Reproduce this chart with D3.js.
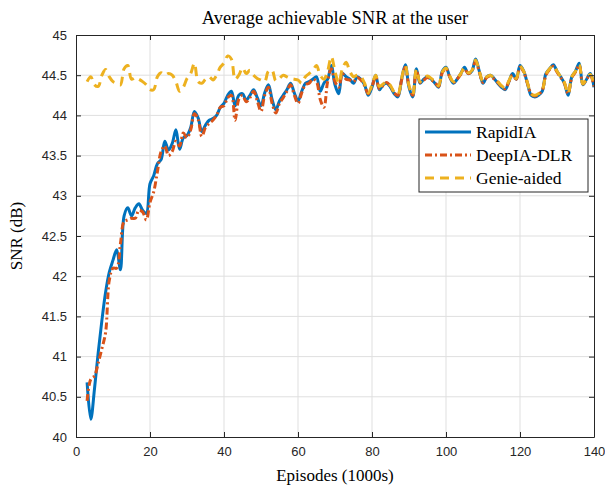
<!DOCTYPE html>
<html>
<head>
<meta charset="utf-8">
<script src="https://cdnjs.cloudflare.com/ajax/libs/d3/7.8.5/d3.min.js"></script>
<style>
  body { margin: 0; background: #fff; }
  .tick text { font-family: "Liberation Sans", Arial, sans-serif; font-size: 13px; fill: #262626; }
  .serif { font-family: "Liberation Serif", "DejaVu Serif", serif; fill: #000; }
</style>
</head>
<body>
<div id="chart"></div>
<script>
// episodes, in 1000s
var episodes = d3.range(3, 141);

var rapidIA = [
  40.68, 40.22, 40.60, 41.05, 41.45, 41.80, 42.05, 42.20, 42.33, 42.08,
  42.75, 42.85, 42.75, 42.85, 42.90, 42.82, 42.78, 43.15, 43.25, 43.40,
  43.45, 43.68, 43.57, 43.65, 43.82, 43.58, 43.72, 43.75, 43.85, 44.05,
  43.97, 43.80, 43.88, 43.94, 43.96, 44.00, 44.10, 44.15, 44.25, 44.30,
  44.12, 44.25, 44.27, 44.19, 44.25, 44.32, 44.22, 44.12, 44.28, 44.38,
  44.20, 44.07, 44.18, 44.25, 44.32, 44.40, 44.28, 44.18, 44.30, 44.40,
  44.42, 44.45, 44.48, 44.30, 44.40, 44.45, 44.62, 44.38, 44.27, 44.52,
  44.48, 44.45, 44.40, 44.48, 44.45, 44.38, 44.25, 44.35, 44.50, 44.32,
  44.38, 44.40, 44.35, 44.27, 44.23, 44.45, 44.63, 44.35, 44.23, 44.58,
  44.40, 44.45, 44.48, 44.45, 44.40, 44.35, 44.55, 44.60, 44.48, 44.40,
  44.45, 44.52, 44.60, 44.52, 44.55, 44.70, 44.55, 44.40, 44.48, 44.50,
  44.46, 44.40, 44.35, 44.32, 44.42, 44.52, 44.45, 44.62, 44.55, 44.40,
  44.25, 44.23, 44.25, 44.30, 44.52, 44.58, 44.63, 44.55, 44.48, 44.40,
  44.25, 44.48, 44.55, 44.65, 44.38, 44.45, 44.52, 44.35
];

var deepIA = [
  40.45, 40.72, 40.76, 40.92, 41.10, 41.30, 41.95, 42.10, 42.10, 42.40,
  42.68, 42.70, 42.72, 42.72, 42.82, 42.80, 42.70, 42.92, 43.05, 43.30,
  43.55, 43.62, 43.50, 43.55, 43.68, 43.62, 43.78, 43.72, 43.82, 44.02,
  43.95, 43.74, 43.85, 43.90, 43.94, 44.00, 44.10, 44.12, 44.22, 44.25,
  43.94, 44.20, 44.25, 44.17, 44.22, 44.30, 44.18, 44.05, 44.25, 44.35,
  44.15, 44.03, 44.15, 44.22, 44.30, 44.38, 44.25, 44.15, 44.28, 44.38,
  44.40, 44.45, 44.42, 44.20, 44.10, 44.42, 44.58, 44.42, 44.35, 44.52,
  44.45, 44.44, 44.42, 44.47, 44.44, 44.37, 44.27, 44.36, 44.48, 44.33,
  44.37, 44.41, 44.36, 44.28, 44.25, 44.44, 44.60, 44.36, 44.25, 44.56,
  44.41, 44.44, 44.47, 44.44, 44.41, 44.36, 44.53, 44.58, 44.48, 44.41,
  44.45, 44.51, 44.58, 44.52, 44.55, 44.67, 44.54, 44.41, 44.47, 44.49,
  44.45, 44.41, 44.36, 44.33, 44.42, 44.50, 44.45, 44.60, 44.54, 44.40,
  44.27, 44.24, 44.26, 44.31, 44.50, 44.57, 44.61, 44.54, 44.47, 44.40,
  44.27, 44.47, 44.54, 44.62, 44.39, 44.45, 44.50, 44.36
];

var genie = [
  44.42, 44.48, 44.38, 44.36, 44.50, 44.57, 44.48, 44.42, 44.40, 44.38,
  44.58, 44.62, 44.45, 44.47, 44.45, 44.42, 44.38, 44.32, 44.32, 44.48,
  44.53, 44.50, 44.52, 44.50, 44.42, 44.30, 44.35, 44.46, 44.52, 44.65,
  44.42, 44.40, 44.45, 44.48, 44.44, 44.50, 44.60, 44.65, 44.74, 44.70,
  44.45, 44.50, 44.59, 44.52, 44.56, 44.50, 44.46, 44.44, 44.42, 44.55,
  44.56, 44.43, 44.46, 44.50, 44.48, 44.46, 44.45, 44.44, 44.40, 44.48,
  44.52, 44.56, 44.62, 44.50, 44.45, 44.55, 44.73, 44.55, 44.40, 44.58,
  44.66, 44.55, 44.48, 44.50, 44.48, 44.40, 44.28, 44.38, 44.50, 44.36,
  44.39, 44.42, 44.37, 44.29, 44.26, 44.46, 44.62, 44.37, 44.26, 44.57,
  44.42, 44.46, 44.49, 44.46, 44.42, 44.37, 44.54, 44.59, 44.49, 44.42,
  44.46, 44.52, 44.59, 44.53, 44.56, 44.69, 44.55, 44.42, 44.48, 44.50,
  44.46, 44.42, 44.37, 44.34, 44.43, 44.51, 44.46, 44.61, 44.55, 44.41,
  44.27, 44.25, 44.27, 44.31, 44.51, 44.58, 44.62, 44.55, 44.48, 44.41,
  44.27, 44.48, 44.55, 44.63, 44.39, 44.46, 44.51, 44.37
];

var seriesNames = ["RapidIA", "DeepIA-DLR", "Genie-aided"];
var xTicks = [0, 20, 40, 60, 80, 100, 120, 140];
var yTicks = [40, 40.5, 41, 41.5, 42, 42.5, 43, 43.5, 44, 44.5, 45];

var width = 605, height = 489;
var margin = {top: 35, right: 11, bottom: 52, left: 76};
var w = width - margin.left - margin.right,
    h = height - margin.top - margin.bottom;

var svg = d3.select("#chart").append("svg")
  .attr("width", width)
  .attr("height", height);

var g = svg.append("g")
  .attr("transform", "translate(" + margin.left + "," + margin.top + ")");

var x = d3.scaleLinear().domain([0, 140]).range([0, w]);
var y = d3.scaleLinear().domain([40, 45]).range([h, 0]);

// grid
g.append("g").selectAll("line").data(xTicks.slice(1, -1)).enter().append("line")
  .attr("x1", function(d) { return x(d); }).attr("x2", function(d) { return x(d); })
  .attr("y1", 0).attr("y2", h)
  .attr("stroke", "#dfdfdf").attr("stroke-width", 1);
g.append("g").selectAll("line").data(yTicks.slice(1, -1)).enter().append("line")
  .attr("y1", function(d) { return y(d); }).attr("y2", function(d) { return y(d); })
  .attr("x1", 0).attr("x2", w)
  .attr("stroke", "#dfdfdf").attr("stroke-width", 1);

// curves
var series = [
  {name: seriesNames[0], values: rapidIA, color: "#0072BD", dash: null},
  {name: seriesNames[1], values: deepIA, color: "#D95319", dash: "7,3,2,3"},
  {name: seriesNames[2], values: genie, color: "#EDB120", dash: "9,6"}
];

var line = d3.line()
  .x(function(d, i) { return x(episodes[i]); })
  .y(function(d) { return y(d); })
  .curve(d3.curveCatmullRom);

g.append("defs").append("clipPath").attr("id", "clip")
  .append("rect").attr("width", w).attr("height", h);

g.append("g").attr("clip-path", "url(#clip)")
  .selectAll("path").data(series).enter().append("path")
  .attr("d", function(d) { return line(d.values); })
  .attr("fill", "none")
  .attr("stroke", function(d) { return d.color; })
  .attr("stroke-width", 3)
  .attr("stroke-dasharray", function(d) { return d.dash; });

// axes, MATLAB style box with inward ticks
var axisColor = "#262626";
function styleAxis(sel) {
  sel.select(".domain").attr("stroke", axisColor);
  sel.selectAll(".tick line").attr("stroke", axisColor);
}
g.append("g").attr("transform", "translate(0," + h + ")")
  .call(d3.axisBottom(x).tickValues(xTicks).tickSizeInner(-5).tickSizeOuter(0).tickPadding(10))
  .call(styleAxis);
g.append("g")
  .call(d3.axisTop(x).tickValues(xTicks).tickSizeInner(-5).tickSizeOuter(0).tickFormat(""))
  .call(styleAxis);
g.append("g")
  .call(d3.axisLeft(y).tickValues(yTicks).tickSizeInner(-5).tickSizeOuter(0).tickPadding(9)
    .tickFormat(function(d) { return d3.format("")(d); }))
  .call(styleAxis);
g.append("g").attr("transform", "translate(" + w + ",0)")
  .call(d3.axisRight(y).tickValues(yTicks).tickSizeInner(-5).tickSizeOuter(0).tickFormat(""))
  .call(styleAxis);
g.selectAll(".tick text").attr("font-family", null).attr("font-size", null);

// title and labels
svg.append("text").attr("class", "serif")
  .attr("x", margin.left + w / 2).attr("y", 24)
  .attr("text-anchor", "middle").attr("font-size", 18.5)
  .text("Average achievable SNR at the user");
svg.append("text").attr("class", "serif")
  .attr("x", margin.left + w / 2).attr("y", 481)
  .attr("text-anchor", "middle").attr("font-size", 17)
  .text("Episodes (1000s)");
svg.append("text").attr("class", "serif")
  .attr("transform", "translate(22," + (margin.top + h / 2) + ") rotate(-90)")
  .attr("text-anchor", "middle").attr("font-size", 17)
  .text("SNR (dB)");

// legend
var lg = svg.append("g").attr("transform", "translate(419,119)");
lg.append("rect").attr("width", 169).attr("height", 73)
  .attr("fill", "#fff").attr("stroke", axisColor).attr("stroke-width", 1);
var items = lg.selectAll("g.item").data(series).enter().append("g")
  .attr("transform", function(d, i) { return "translate(0," + (13 + i * 23) + ")"; });
items.append("line")
  .attr("x1", 6).attr("x2", 52)
  .attr("stroke", function(d) { return d.color; })
  .attr("stroke-width", 3)
  .attr("stroke-dasharray", function(d) { return d.dash; });
items.append("text").attr("class", "serif")
  .attr("x", 57).attr("y", 6).attr("font-size", 17.5)
  .text(function(d) { return d.name; });
</script>
</body>
</html>
